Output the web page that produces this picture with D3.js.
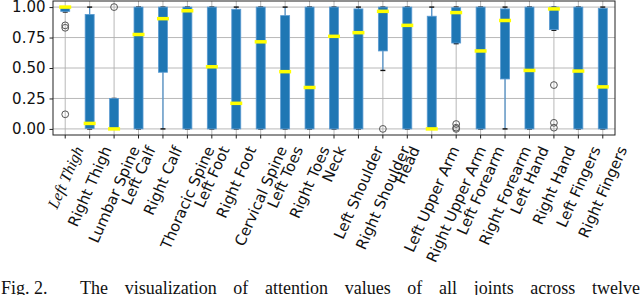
<!DOCTYPE html>
<html>
<head>
<meta charset="utf-8">
<script src="https://cdn.jsdelivr.net/npm/d3@7"></script>
<style>
  body { margin: 0; background: #fff; }
  svg { display: block; }
</style>
</head>
<body>
<div id="chart"></div>
<script>

// joints in plotting order
var joints = ["Left Thigh", "Right Thigh", "Lumbar Spine", "Left Calf", "Right Calf",
  "Thoracic Spine", "Left Foot", "Right Foot", "Cervical Spine", "Left Toes",
  "Right Toes", "Neck", "Left Shoulder", "Right Shoulder", "Head",
  "Left Upper Arm", "Right Upper Arm", "Left Forearm", "Right Forearm",
  "Left Hand", "Right Hand", "Left Fingers", "Right Fingers"];

// box statistics
var whiskerLow = [0.96, 0, 0, 0, 0, 0, 0, 0, 0, 0, 0, 0, 0, 0.48, 0, 0, 0.70, 0, 0, 0, 0.81, 0, 0];
var q1 =         [0.965, 0.004, 0, 0, 0.465, 0, 0, 0, 0, 0, 0, 0, 0, 0.64, 0, 0, 0.705, 0, 0.41, 0, 0.815, 0, 0];
var medians =    [1.0, 0.045, 0.0, 0.775, 0.905, 0.97, 0.51, 0.21, 0.715, 0.47, 0.34, 0.76, 0.79, 0.965, 0.85, 0.0, 0.955, 0.64, 0.89, 0.48, 0.985, 0.475, 0.345];
var q3 =         [1.0, 0.94, 0.25, 1.0, 1.0, 1.0, 1.0, 0.982, 1.0, 0.93, 1.0, 1.0, 0.985, 1.0, 1.0, 0.925, 0.995, 1.0, 0.985, 1.0, 1.0, 1.0, 0.99];
var whiskerHigh = [1.0, 1.0, 0.25, 1.0, 1.0, 1.0, 1.0, 1.0, 1.0, 1.0, 1.0, 1.0, 1.0, 1.0, 1.0, 1.0, 1.0, 1.0, 1.0, 1.0, 1.0, 1.0, 1.0];
var fliers = [[0.85, 0.83, 0.12], [], [1.0], [], [], [], [], [], [], [], [], [], [], [0.0], [],
  [], [0.04, 0.01, 0.0], [], [], [], [0.36, 0.05, 0.01], [], []];

var yTicks = [0, 0.25, 0.5, 0.75, 1.0];

var captionHead = "Fig. 2.";
var captionBody = "The visualization of attention values of all joints across twelve";


BoxChart = function(_parentElement){
  this.parentElement = _parentElement;
  this.initVis();
}

BoxChart.prototype.initVis = function(){
  var vis = this;

  vis.svg = d3.select("#" + vis.parentElement).append("svg")
      .attr("width", 640)
      .attr("height", 295);

  vis.left = 53; vis.right = 615; vis.top = 1; vis.bottom = 135;

  vis.x = d3.scaleBand()
      .domain(joints)
      .range([vis.left, vis.right]);

  // matplotlib-style 5% margin around [0, 1]
  vis.y = d3.scaleLinear()
      .domain([-0.05, 1.05])
      .range([vis.bottom, vis.top]);

  vis.rows = joints.map(function(name, i){
    return { name: name, lo: whiskerLow[i], q1: q1[i], med: medians[i],
      q3: q3[i], hi: whiskerHigh[i], fliers: fliers[i] };
  });

  vis.updateVis();
}

BoxChart.prototype.updateVis = function(){
  var vis = this;
  var cx = function(d){ return vis.x(d.name) + vis.x.bandwidth() / 2; };
  var boxW = 9, capW = 5;

  // grid
  vis.svg.append("g").selectAll("line").data(yTicks).enter().append("line")
      .attr("x1", vis.left).attr("x2", vis.right)
      .attr("y1", function(d){ return vis.y(d); })
      .attr("y2", function(d){ return vis.y(d); })
      .attr("stroke", "#b0b0b0").attr("stroke-width", 0.9);
  vis.svg.append("g").selectAll("line").data(vis.rows).enter().append("line")
      .attr("x1", cx).attr("x2", cx)
      .attr("y1", vis.top).attr("y2", vis.bottom)
      .attr("stroke", "#b0b0b0").attr("stroke-width", 0.9);

  var g = vis.svg.append("g").selectAll("g").data(vis.rows).enter().append("g");

  // whiskers
  g.append("line")
      .attr("x1", cx).attr("x2", cx)
      .attr("y1", function(d){ return vis.y(d.lo); })
      .attr("y2", function(d){ return vis.y(d.hi); })
      .attr("stroke", "#4f92cc").attr("stroke-width", 1.2);

  // caps
  ["lo", "hi"].forEach(function(k){
    g.append("line")
        .attr("x1", function(d){ return cx(d) - capW / 2; })
        .attr("x2", function(d){ return cx(d) + capW / 2; })
        .attr("y1", function(d){ return vis.y(d[k]); })
        .attr("y2", function(d){ return vis.y(d[k]); })
        .attr("stroke", "#111").attr("stroke-width", 1.4);
  });

  // boxes
  g.append("rect")
      .attr("x", function(d){ return cx(d) - boxW / 2; })
      .attr("width", boxW)
      .attr("y", function(d){ return vis.y(d.q3); })
      .attr("height", function(d){ return vis.y(d.q1) - vis.y(d.q3); })
      .attr("fill", "#1f77b4")
      .attr("stroke", "#5b9bd2").attr("stroke-width", 0.8);

  // medians
  g.append("line")
      .attr("x1", function(d){ return cx(d) - boxW / 2 - 1.5; })
      .attr("x2", function(d){ return cx(d) + boxW / 2 + 1.5; })
      .attr("y1", function(d){ return vis.y(d.med); })
      .attr("y2", function(d){ return vis.y(d.med); })
      .attr("stroke", "#ffff00").attr("stroke-width", 3.5);

  // outliers
  g.selectAll("circle").data(function(d){
      return d.fliers.map(function(v){ return { name: d.name, v: v }; });
    }).enter().append("circle")
      .attr("cx", cx)
      .attr("cy", function(d){ return vis.y(d.v); })
      .attr("r", 3.4)
      .attr("fill", "none")
      .attr("stroke", "#555").attr("stroke-width", 1);

  // frame
  vis.svg.append("rect")
      .attr("x", vis.left).attr("y", vis.top)
      .attr("width", vis.right - vis.left).attr("height", vis.bottom - vis.top)
      .attr("fill", "none").attr("stroke", "#222").attr("stroke-width", 1);

  // y axis
  var yAxis = d3.axisLeft(vis.y).tickValues(yTicks)
      .tickFormat(d3.format(".2f")).tickSize(3.5).tickPadding(4);
  var ya = vis.svg.append("g")
      .attr("transform", "translate(" + vis.left + ",0)")
      .call(yAxis);
  ya.select(".domain").remove();
  ya.selectAll("line").attr("stroke", "#222");
  ya.selectAll("text").attr("font-family", "DejaVu Sans").attr("font-size", 15).attr("fill", "#111");

  // x axis
  var xAxis = d3.axisBottom(vis.x).tickSize(3.5).tickFormat("");
  var xa = vis.svg.append("g")
      .attr("transform", "translate(0," + vis.bottom + ")")
      .call(xAxis);
  xa.select(".domain").remove();
  xa.selectAll("line").attr("stroke", "#222");

  // rotated tick labels, bbox centred under each tick
  var angle = 66, rad = angle * Math.PI / 180, lineH = 15, labelTop = 144;
  vis.svg.append("g").selectAll("text").data(vis.rows).enter().append("text")
      .attr("text-anchor", "middle")
      .attr("dy", "0.35em")
      .attr("font-family", function(d, i){ return i === 0 ? "Liberation Serif" : "DejaVu Sans"; })
      .attr("font-style", function(d, i){ return i === 0 ? "italic" : "normal"; })
      .attr("font-size", function(d, i){ return i === 0 ? 16 : 15; })
      .attr("fill", "#111")
      .text(function(d){ return d.name; })
      .each(function(d){
        var L = this.getComputedTextLength();
        var H = L * Math.sin(rad) + lineH * Math.cos(rad);
        d3.select(this).attr("transform",
          "translate(" + cx(d) + "," + (labelTop + H / 2) + ") rotate(" + (-angle) + ")");
      });

  // caption (justified like the paper)
  vis.svg.append("text")
      .attr("x", 1).attr("y", 294)
      .attr("font-family", "Liberation Serif").attr("font-size", 18).attr("fill", "#111")
      .text(captionHead);
  var body = vis.svg.append("text")
      .attr("x", 80).attr("y", 294)
      .attr("font-family", "Liberation Serif").attr("font-size", 18).attr("fill", "#111")
      .text(captionBody);
  var natural = body.node().getComputedTextLength();
  var gaps = captionBody.split(" ").length - 1;
  body.attr("word-spacing", (640 - 80 - natural) / gaps);
}

var chart = new BoxChart("chart");
</script>
</body>
</html>
